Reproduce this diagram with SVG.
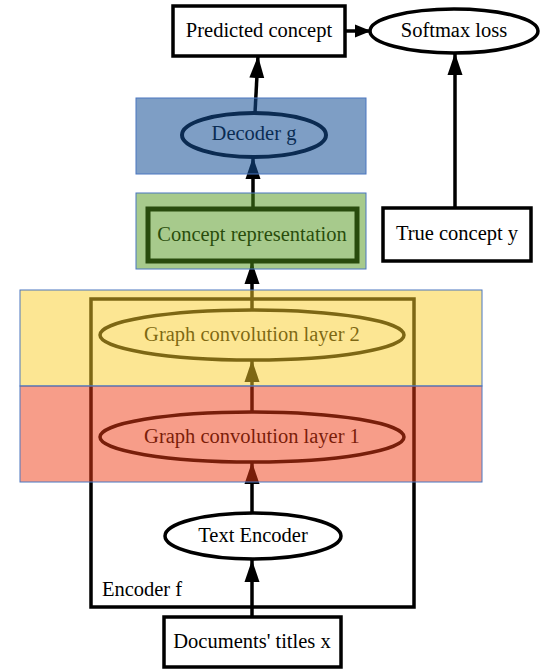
<svg xmlns="http://www.w3.org/2000/svg" width="549" height="671" viewBox="0 0 549 671">
<defs>
<style>
text{font-family:"Liberation Serif","Times New Roman",serif;font-size:20.5px;fill:#000;text-anchor:middle;dominant-baseline:central}
.n{fill:#fff;stroke:#000;stroke-width:3.5}
.e{fill:none;stroke:#000;stroke-width:3.5}
.ov{stroke:#4a76c0;stroke-width:1}
</style>
<marker id="ah" markerUnits="userSpaceOnUse" markerWidth="24" markerHeight="16" refX="22" refY="8" orient="auto">
<path d="M0,0.5 L22,8 L0,15.5 z" fill="#000"/>
</marker>
<marker id="ahs" markerUnits="userSpaceOnUse" markerWidth="18" markerHeight="14" refX="16" refY="7" orient="auto">
<path d="M0,0.5 L16,7 L0,13.5 z" fill="#000"/>
</marker>
</defs>
<rect width="549" height="671" fill="#fff"/>
<g id="cluster-encoder">
<rect x="91" y="299" width="323" height="308" fill="none" stroke="#000" stroke-width="3.5"/>
<text x="142" y="589">Encoder f</text>
</g>
<g id="edges">
<line class="e" x1="252" y1="617" x2="252" y2="560" marker-end="url(#ah)"/>
<line class="e" x1="252" y1="513" x2="252" y2="462" marker-end="url(#ah)"/>
<line class="e" x1="252" y1="412" x2="252" y2="360" marker-end="url(#ah)"/>
<line class="e" x1="252" y1="310" x2="252" y2="262" marker-end="url(#ah)"/>
<line class="e" x1="253" y1="208" x2="253" y2="157" marker-end="url(#ah)"/>
<line class="e" x1="255" y1="113" x2="258" y2="56" marker-end="url(#ah)"/>
<line class="e" x1="345" y1="31" x2="371" y2="31" marker-end="url(#ahs)"/>
<line class="e" x1="455" y1="208" x2="455" y2="53" marker-end="url(#ah)"/>
</g>
<g id="docs">
<rect class="n" x="164" y="617" width="177" height="50"/>
<text x="252" y="641">Documents' titles x</text>
</g>
<g id="text-encoder">
<ellipse class="n" cx="253" cy="536" rx="88" ry="23"/>
<text x="253" y="535">Text Encoder</text>
</g>
<g id="gcl1">
<ellipse class="n" cx="252" cy="437" rx="152" ry="25"/>
<text x="252" y="436">Graph convolution layer 1</text>
</g>
<g id="gcl2">
<ellipse class="n" cx="252" cy="335" rx="152" ry="25"/>
<text x="252" y="334">Graph convolution layer 2</text>
</g>
<g id="concept-rep">
<rect class="n" x="148" y="209" width="209" height="52" style="stroke-width:5"/>
<text x="252" y="234">Concept representation</text>
</g>
<g id="decoder">
<ellipse class="n" cx="254" cy="135" rx="72" ry="22" style="stroke-width:4"/>
<text x="254" y="133">Decoder g</text>
</g>
<g id="predicted">
<rect class="n" x="173" y="6" width="172" height="50"/>
<text x="259" y="30">Predicted concept</text>
</g>
<g id="softmax">
<ellipse class="n" cx="454" cy="31" rx="84" ry="22"/>
<text x="454" y="30">Softmax loss</text>
</g>
<g id="true-concept">
<rect class="n" x="383" y="208" width="148" height="53"/>
<text x="457" y="233">True concept y</text>
</g>
<g id="overlays">
<rect class="ov" x="136" y="98" width="230" height="76" fill="rgb(20,78,150)" fill-opacity="0.55"/>
<rect class="ov" x="136" y="193" width="230" height="76" fill="rgb(80,150,25)" fill-opacity="0.5"/>
<rect class="ov" x="20" y="290" width="462" height="96" fill="rgb(250,205,40)" fill-opacity="0.5"/>
<rect class="ov" x="20" y="386" width="462" height="96" fill="rgb(240,60,20)" fill-opacity="0.5"/>
</g>
</svg>
